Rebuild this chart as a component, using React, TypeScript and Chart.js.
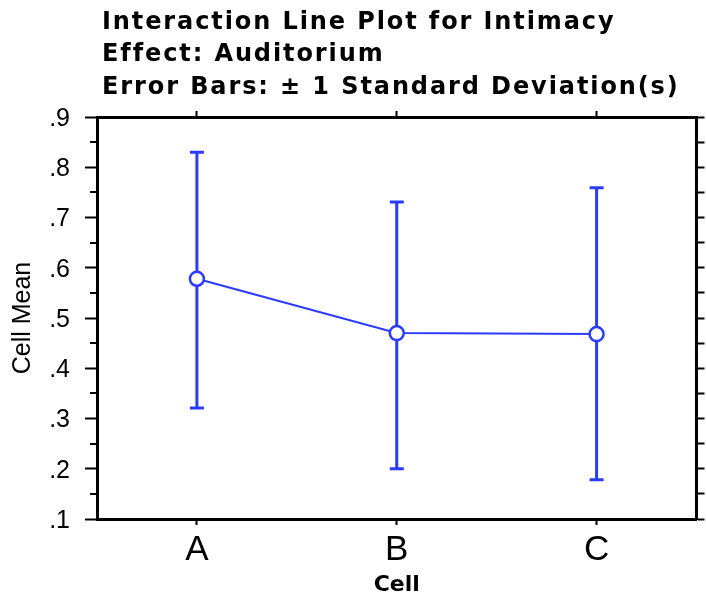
import React, { useEffect, useRef } from "react";
import { Chart, registerables } from "chart.js";

Chart.register(...registerables);

const categories = ["A", "B", "C"];
const cellMeans = [0.578, 0.47, 0.468];
const upperBars = [0.83, 0.731, 0.759];
const lowerBars = [0.321, 0.2, 0.178];
const yTickLabels = [".1", ".2", ".3", ".4", ".5", ".6", ".7", ".8", ".9"];
const titleLines = [
  "Interaction Line Plot for Intimacy",
  "Effect: Auditorium",
  "Error Bars: ± 1 Standard Deviation(s)",
];
const xAxisTitle = "Cell";
const yAxisTitle = "Cell Mean";

const BLUE = "#2a3bff";
const BLACK = "#000";

const extrasPlugin = {
  id: "extras",
  beforeDatasetsDraw(chart: any) {
    const ctx = chart.ctx;
    const yScale = chart.scales.y;
    const meta = chart.getDatasetMeta(0);
    ctx.save();
    ctx.strokeStyle = BLUE;
    ctx.lineWidth = 3;
    meta.data.forEach((pt: any, i: number) => {
      const x = pt.x;
      const yt = yScale.getPixelForValue(upperBars[i]);
      const yb = yScale.getPixelForValue(lowerBars[i]);
      ctx.beginPath();
      ctx.moveTo(x, yt);
      ctx.lineTo(x, yb);
      ctx.moveTo(x - 7, yt);
      ctx.lineTo(x + 7, yt);
      ctx.moveTo(x - 7, yb);
      ctx.lineTo(x + 7, yb);
      ctx.stroke();
    });
    ctx.restore();
  },
  afterDraw(chart: any) {
    const ctx = chart.ctx;
    const yScale = chart.scales.y;
    const left = chart.chartArea.left;
    // minor ticks on the left axis
    ctx.save();
    ctx.strokeStyle = BLACK;
    ctx.lineWidth = 2;
    for (let k = 1; k < 16; k += 2) {
      const v = 0.1 + k * 0.05;
      const py = Math.round(yScale.getPixelForValue(v));
      ctx.beginPath();
      ctx.moveTo(left - 7, py);
      ctx.lineTo(left, py);
      ctx.stroke();
    }
    ctx.restore();
    // title lines
    ctx.save();
    ctx.fillStyle = BLACK;
    ctx.font = "bold 24px 'DejaVu Sans'";
    (ctx as any).letterSpacing = "1.9px";
    ctx.textBaseline = "alphabetic";
    ctx.textAlign = "left";
    const baselines = [29, 61, 94];
    titleLines.forEach((t, i) => {
      ctx.fillText(t, left + 5, baselines[i]);
    });
    ctx.restore();
  },
};

export default function App() {
  const ref = useRef<HTMLCanvasElement | null>(null);
  useEffect(() => {
    if (!ref.current) return;
    const chart = new Chart(ref.current, {
      type: "line",
      data: {
        labels: categories,
        datasets: [
          {
            data: cellMeans,
            borderColor: BLUE,
            borderWidth: 2,
            pointRadius: 7,
            pointBorderWidth: 2.5,
            pointBackgroundColor: "#fff",
            pointBorderColor: BLUE,
            tension: 0,
            xAxisID: "x",
            yAxisID: "y",
          },
        ],
      },
      options: {
        responsive: false,
        animation: false,
        layout: { padding: 0 },
        plugins: {
          legend: { display: false },
          tooltip: { enabled: false },
          title: { display: false },
        },
        scales: {
          x: {
            type: "category",
            position: "bottom",
            offset: true,
            afterFit: (s: any) => {
              s.height = 82;
            },
            ticks: {
              font: { family: "'Liberation Sans'", size: 35 },
              color: BLACK,
              padding: 4,
              maxRotation: 0,
            },
            grid: {
              offset: false,
              drawOnChartArea: false,
              tickLength: 6,
              tickWidth: 2,
              tickColor: BLACK,
              color: BLACK,
            },
            border: { display: true, color: BLACK, width: 3 },
            title: {
              display: true,
              text: xAxisTitle,
              font: { family: "'DejaVu Sans'", size: 22, weight: "bold" },
              color: BLACK,
              padding: { top: 0, bottom: 3 },
            },
          },
          x2: {
            type: "category",
            position: "top",
            labels: categories,
            offset: true,
            afterFit: (s: any) => {
              s.height = 117;
            },
            ticks: { display: false },
            grid: {
              offset: false,
              drawOnChartArea: false,
              tickLength: 6,
              tickWidth: 2,
              tickColor: BLACK,
              color: BLACK,
            },
            border: { display: true, color: BLACK, width: 3 },
          },
          y: {
            type: "linear",
            position: "left",
            min: 0.1,
            max: 0.9,
            afterFit: (s: any) => {
              s.width = 97;
            },
            ticks: {
              stepSize: 0.1,
              callback: (_v: any, i: number) => yTickLabels[i],
              font: { family: "'Liberation Sans'", size: 25 },
              color: BLACK,
              padding: 15,
              labelOffset: 2,
            },
            grid: {
              drawOnChartArea: false,
              drawTicks: true,
              tickLength: 12,
              tickWidth: 2,
              tickColor: BLACK,
              color: BLACK,
            },
            border: { display: true, color: BLACK, width: 3 },
            title: {
              display: true,
              text: yAxisTitle,
              font: { family: "'Liberation Sans'", size: 25 },
              color: BLACK,
              padding: { top: 8, bottom: 0 },
            },
          },
          yRight: {
            type: "linear",
            position: "right",
            min: 0.1,
            max: 0.9,
            afterFit: (s: any) => {
              s.width = 9;
            },
            ticks: { display: false, stepSize: 0.05, maxTicksLimit: 100 },
            grid: {
              drawOnChartArea: false,
              drawTicks: true,
              tickLength: 8,
              tickWidth: 2,
              tickColor: BLACK,
              color: BLACK,
            },
            border: { display: true, color: BLACK, width: 3 },
          },
        },
      },
      plugins: [extrasPlugin],
    } as any);
    return () => chart.destroy();
  }, []);

  return (
    <div style={{ position: "fixed", left: 0, top: 0, width: 706, height: 601, background: "#fff" }}>
      <canvas ref={ref} width={706} height={601} style={{ display: "block" }} />
    </div>
  );
}
